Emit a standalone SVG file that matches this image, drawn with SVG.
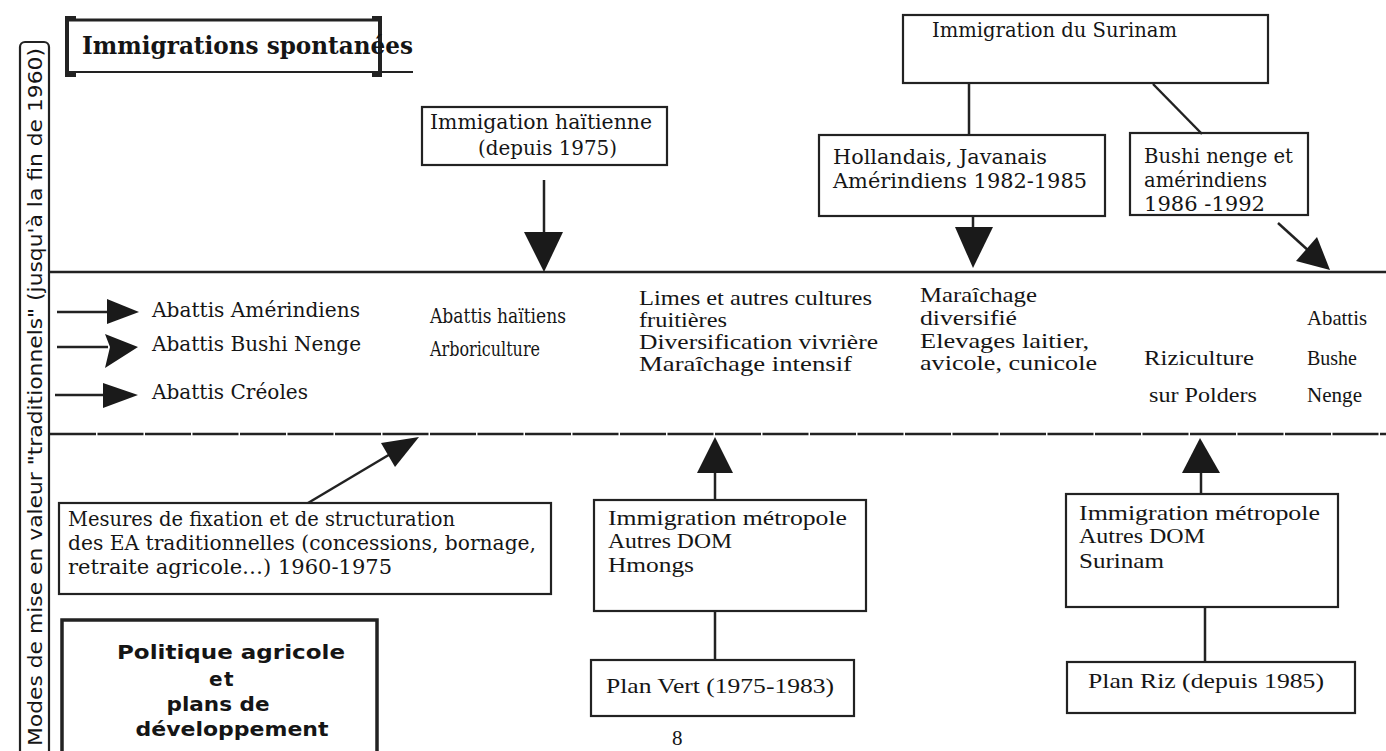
<svg xmlns="http://www.w3.org/2000/svg" width="1386" height="751" viewBox="0 0 1386 751">
<style>
.bx{fill:none;stroke:#222;stroke-width:2.2}
.ln{fill:none;stroke:#222;stroke-width:2.5}
.ah{fill:#1a1a1a;stroke:none}
.t{font-family:"DejaVu Serif","Liberation Serif",serif;font-size:20px;fill:#151515}
.r{font-family:"Liberation Serif","Times New Roman",serif;font-size:21px;fill:#151515}
.b{font-family:"DejaVu Serif",serif;font-weight:bold;fill:#151515}
.p{font-family:"DejaVu Sans","Liberation Sans",sans-serif;font-weight:bold;font-size:20px;fill:#151515;text-anchor:middle}
.v{font-family:"DejaVu Sans","Liberation Sans",sans-serif;font-size:19px;fill:#151515}
</style>
<rect width="1386" height="751" fill="#fff"/>

<g id="axis-label">
<rect x="20" y="42" width="29" height="722" rx="5" class="bx"/>
<text class="v" transform="translate(42,746) rotate(-90)" textLength="698" lengthAdjust="spacingAndGlyphs">Modes de mise en valeur "traditionnels" (jusqu'à la fin de 1960)</text>
</g>

<g id="immigrations-spontanees">
<line x1="68" y1="20" x2="379" y2="20" stroke="#222" stroke-width="3"/>
<line x1="66" y1="72" x2="413" y2="72" stroke="#222" stroke-width="2"/>
<path d="M76,18 H67 V75 H76" fill="none" stroke="#222" stroke-width="4"/>
<path d="M372,18 H380 V75 H372" fill="none" stroke="#222" stroke-width="4"/>
<text class="b" x="82" y="54" font-size="25" textLength="331" lengthAdjust="spacingAndGlyphs">Immigrations spontanées</text>
</g>

<g id="immigration-haitienne">
<rect x="422" y="107" width="245" height="58" class="bx" stroke-width="2.6"/>
<text class="t" x="430" y="129" textLength="222" lengthAdjust="spacingAndGlyphs">Immigation haïtienne</text>
<text class="t" x="478" y="155" textLength="139" lengthAdjust="spacingAndGlyphs">(depuis 1975)</text>
</g>

<g id="immigration-surinam">
<rect x="903" y="15" width="365" height="68" class="bx"/>
<text class="t" x="932" y="37" textLength="245" lengthAdjust="spacingAndGlyphs">Immigration du Surinam</text>
</g>

<g id="hollandais">
<rect x="819" y="135" width="286" height="81" class="bx"/>
<text class="t" x="833" y="164" textLength="214" lengthAdjust="spacingAndGlyphs">Hollandais, Javanais</text>
<text class="t" x="833" y="188" textLength="254" lengthAdjust="spacingAndGlyphs">Amérindiens  1982-1985</text>
</g>

<g id="bushi">
<rect x="1130" y="133" width="178" height="82" class="bx"/>
<text class="t" x="1144" y="163" textLength="149" lengthAdjust="spacingAndGlyphs">Bushi nenge et</text>
<text class="t" x="1144" y="187" textLength="123" lengthAdjust="spacingAndGlyphs">amérindiens</text>
<text class="t" x="1144" y="211" textLength="121" lengthAdjust="spacingAndGlyphs">1986 -1992</text>
</g>

<g id="abattis-traditionnels">
<text class="t" x="152" y="317" textLength="208" lengthAdjust="spacingAndGlyphs">Abattis Amérindiens</text>
<text class="t" x="152" y="351" textLength="209" lengthAdjust="spacingAndGlyphs">Abattis Bushi Nenge</text>
<text class="t" x="152" y="399" textLength="156" lengthAdjust="spacingAndGlyphs">Abattis Créoles</text>
</g>

<g id="abattis-haitiens">
<text class="t" x="430" y="323" textLength="136" lengthAdjust="spacingAndGlyphs">Abattis haïtiens</text>
<text class="t" x="430" y="356" textLength="110" lengthAdjust="spacingAndGlyphs">Arboriculture</text>
</g>

<g id="limes">
<text class="r" x="639" y="305" textLength="233" lengthAdjust="spacingAndGlyphs">Limes et autres cultures</text>
<text class="r" x="639" y="327" textLength="88" lengthAdjust="spacingAndGlyphs">fruitières</text>
<text class="r" x="639" y="349" textLength="239" lengthAdjust="spacingAndGlyphs">Diversification vivrière</text>
<text class="r" x="639" y="371" textLength="213" lengthAdjust="spacingAndGlyphs">Maraîchage intensif</text>
</g>

<g id="maraichage">
<text class="r" x="920" y="302" textLength="117" lengthAdjust="spacingAndGlyphs">Maraîchage</text>
<text class="r" x="920" y="325" textLength="97" lengthAdjust="spacingAndGlyphs">diversifié</text>
<text class="r" x="920" y="348" textLength="169" lengthAdjust="spacingAndGlyphs">Elevages laitier,</text>
<text class="r" x="920" y="370" textLength="177" lengthAdjust="spacingAndGlyphs">avicole, cunicole</text>
</g>

<g id="riziculture">
<text class="r" x="1144" y="365" textLength="110" lengthAdjust="spacingAndGlyphs">Riziculture</text>
<text class="r" x="1149" y="402" textLength="108" lengthAdjust="spacingAndGlyphs">sur Polders</text>
</g>

<g id="abattis-bushe-nenge">
<text class="r" x="1307" y="325" textLength="60" lengthAdjust="spacingAndGlyphs">Abattis</text>
<text class="r" x="1307" y="365" textLength="50" lengthAdjust="spacingAndGlyphs">Bushe</text>
<text class="r" x="1307" y="402" textLength="55" lengthAdjust="spacingAndGlyphs">Nenge</text>
</g>

<g id="mesures">
<rect x="59" y="503" width="492" height="91" class="bx"/>
<text class="t" x="68" y="526" textLength="387" lengthAdjust="spacingAndGlyphs">Mesures de fixation et de structuration</text>
<text class="t" x="68" y="550" textLength="468" lengthAdjust="spacingAndGlyphs">des EA traditionnelles (concessions, bornage,</text>
<text class="t" x="68" y="574" textLength="324" lengthAdjust="spacingAndGlyphs">retraite agricole…)  1960-1975</text>
</g>

<g id="politique">
<rect x="62" y="620" width="315" height="145" fill="none" stroke="#222" stroke-width="3.5"/>
<text class="p" x="231" y="659" textLength="228" lengthAdjust="spacingAndGlyphs">Politique  agricole</text>
<text class="p" x="222" y="686" letter-spacing="1.5">et</text>
<text class="p" x="218" y="711" textLength="103" lengthAdjust="spacingAndGlyphs">plans  de</text>
<text class="p" x="232" y="736" textLength="193" lengthAdjust="spacingAndGlyphs">développement</text>
</g>

<g id="immigration-metropole-1">
<rect x="594" y="500" width="272" height="111" class="bx"/>
<text class="r" x="608" y="525" textLength="239" lengthAdjust="spacingAndGlyphs">Immigration métropole</text>
<text class="r" x="608" y="548" textLength="124" lengthAdjust="spacingAndGlyphs">Autres DOM</text>
<text class="r" x="608" y="572" textLength="86" lengthAdjust="spacingAndGlyphs">Hmongs</text>
</g>

<g id="plan-vert">
<rect x="591" y="660" width="263" height="56" class="bx"/>
<text class="r" x="606" y="693" textLength="228" lengthAdjust="spacingAndGlyphs">Plan Vert (1975-1983)</text>
</g>

<g id="immigration-metropole-2">
<rect x="1066" y="494" width="272" height="113" class="bx"/>
<text class="r" x="1079" y="520" textLength="241" lengthAdjust="spacingAndGlyphs">Immigration métropole</text>
<text class="r" x="1079" y="543" textLength="126" lengthAdjust="spacingAndGlyphs">Autres DOM</text>
<text class="r" x="1079" y="568" textLength="85" lengthAdjust="spacingAndGlyphs">Surinam</text>
</g>

<g id="plan-riz">
<rect x="1067" y="662" width="288" height="51" class="bx"/>
<text class="r" x="1088" y="688" textLength="236" lengthAdjust="spacingAndGlyphs">Plan Riz  (depuis 1985)</text>
</g>

<g id="page-number">
<text class="r" x="672" y="745" font-size="20">8</text>
</g>

<g id="connectors">
<line x1="50" y1="272" x2="1386" y2="272" class="ln" stroke-width="2.2"/>
<line x1="50" y1="434" x2="1386" y2="434" class="ln" stroke-width="2.2" stroke-dasharray="46 1.5"/>

<line x1="57" y1="312" x2="110" y2="312" class="ln" stroke-width="2"/>
<polygon class="ah" points="107,299 139,312 107,324"/>
<line x1="57" y1="347" x2="108" y2="347" class="ln" stroke-width="2"/>
<polygon class="ah" points="105,334 138,347 105,368 110,347"/>
<line x1="55" y1="395" x2="106" y2="395" class="ln" stroke-width="1.6" stroke="#555"/>
<polygon class="ah" points="103,383 138,395 103,408"/>

<line x1="544" y1="180" x2="544" y2="236" class="ln" stroke-width="4"/>
<polygon class="ah" points="524,232 563,232 544,272"/>

<line x1="969" y1="83" x2="969" y2="135" class="ln" stroke-width="2.6"/>
<line x1="1153" y1="84" x2="1202" y2="134" class="ln" stroke-width="2.8"/>

<line x1="973" y1="216" x2="973" y2="230" class="ln" stroke-width="3"/>
<polygon class="ah" points="955,227 993,227 973,268"/>

<line x1="1278" y1="223" x2="1310" y2="252" class="ln" stroke-width="5"/>
<polygon class="ah" points="1296,261 1317,237 1330,270"/>

<line x1="308" y1="503" x2="392" y2="453" class="ln" stroke-width="4"/>
<polygon class="ah" points="381,443 395,467 419,437"/>

<line x1="715" y1="470" x2="715" y2="500" class="ln" stroke-width="3"/>
<polygon class="ah" points="697,473 733,473 715,437"/>
<line x1="715" y1="611" x2="715" y2="660" class="ln" stroke-width="2.5"/>

<line x1="1201" y1="470" x2="1201" y2="494" class="ln" stroke-width="3"/>
<polygon class="ah" points="1182,473 1220,473 1200,438"/>
<line x1="1205" y1="607" x2="1205" y2="662" class="ln" stroke-width="2.5"/>
</g>
</svg>
